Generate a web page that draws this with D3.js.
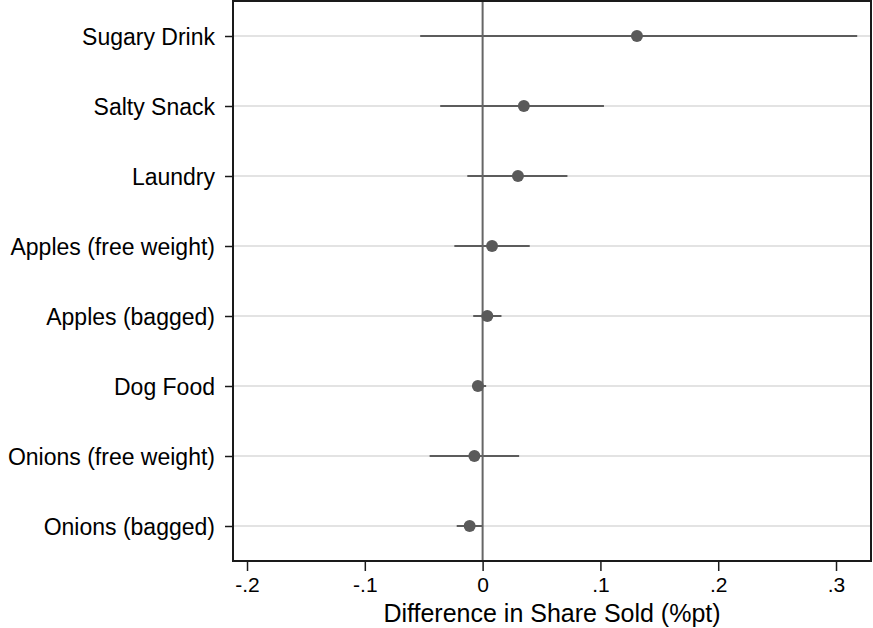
<!DOCTYPE html>
<html>
<head>
<meta charset="utf-8">
<script src="https://cdn.jsdelivr.net/npm/d3@7"></script>
<style>
  body { margin: 0; background: #fff; }
  svg { font-family: Arial, "Liberation Sans", sans-serif; }
</style>
</head>
<body>
<script>
// categories top to bottom
const categories = [
	'Sugary Drink',
	'Salty Snack',
	'Laundry',
	'Apples (free weight)',
	'Apples (bagged)',
	'Dog Food',
	'Onions (free weight)',
	'Onions (bagged)'
];
const estimates = [0.131, 0.035, 0.030, 0.008, 0.004, -0.004, -0.007, -0.011];
const ciLow = [-0.053, -0.036, -0.013, -0.024, -0.008, -0.008, -0.045, -0.022];
const ciHigh = [0.318, 0.103, 0.072, 0.040, 0.016, 0.003, 0.031, 0.000];
const xTicks = [-0.2, -0.1, 0, 0.1, 0.2, 0.3];
const xTickLabels = ['-.2', '-.1', '0', '.1', '.2', '.3'];

const width = 873, height = 628;
const margin = { left: 233, right: 2, top: 1, bottom: 67 };

const svg = d3
	.select('body')
	.append('svg')
	.attr('width', width)
	.attr('height', height);

const x = d3
	.scaleLinear()
	.domain([-0.2119, 0.3297])
	.range([margin.left, width - margin.right]);

const y = d3
	.scalePoint()
	.domain(categories)
	.range([margin.top, height - margin.bottom])
	.padding(0.5);

let data = categories.map((c, i) => ({
	name: c,
	est: estimates[i],
	lo: ciLow[i],
	hi: ciHigh[i]
}));

// horizontal grid lines
svg
	.selectAll('line.grid')
	.data(categories)
	.enter()
	.append('line')
	.attr('class', 'grid')
	.attr('x1', margin.left)
	.attr('x2', width - margin.right)
	.attr('y1', d => y(d))
	.attr('y2', d => y(d))
	.attr('stroke', '#e3e3e3')
	.attr('stroke-width', 2);

// confidence intervals
svg
	.selectAll('line.ci')
	.data(data)
	.enter()
	.append('line')
	.attr('class', 'ci')
	.attr('x1', d => x(d.lo))
	.attr('x2', d => x(d.hi))
	.attr('y1', d => y(d.name))
	.attr('y2', d => y(d.name))
	.attr('stroke', '#5c5c5c')
	.attr('stroke-width', 2);

// zero line
svg
	.append('line')
	.attr('x1', x(0))
	.attr('x2', x(0))
	.attr('y1', margin.top)
	.attr('y2', height - margin.bottom)
	.attr('stroke', '#666')
	.attr('stroke-width', 2);

// points
svg
	.selectAll('circle')
	.data(data)
	.enter()
	.append('circle')
	.attr('cx', d => x(d.est))
	.attr('cy', d => y(d.name))
	.attr('r', 6)
	.attr('fill', '#5a5a5a');

// frame
svg
	.append('rect')
	.attr('x', margin.left)
	.attr('y', margin.top)
	.attr('width', width - margin.right - margin.left)
	.attr('height', height - margin.bottom - margin.top)
	.attr('fill', 'none')
	.attr('stroke', '#1a1a1a')
	.attr('stroke-width', 2);

// x axis
const xAxis = svg
	.append('g')
	.attr('transform', `translate(0,${height - margin.bottom})`)
	.call(
		d3
			.axisBottom(x)
			.tickValues(xTicks)
			.tickSize(10)
			.tickFormat((d, i) => xTickLabels[i])
	);
xAxis.select('.domain').remove();
xAxis.selectAll('line').attr('stroke', '#1a1a1a').attr('stroke-width', 1.5);
xAxis
	.selectAll('text')
	.attr('fill', '#000')
	.style('font-size', '21px')
	.attr('y', 31)
	.attr('dy', '0');

// y axis
const yAxis = svg
	.append('g')
	.attr('transform', `translate(${margin.left},0)`)
	.call(d3.axisLeft(y).tickSize(8).tickPadding(10));
yAxis.select('.domain').remove();
yAxis.selectAll('line').attr('stroke', '#1a1a1a').attr('stroke-width', 1.5);
yAxis
	.selectAll('text')
	.attr('fill', '#000')
	.style('font-size', '23px')
	.attr('dy', '0.38em');

// axis title
svg
	.append('text')
	.attr('x', (margin.left + width - margin.right) / 2)
	.attr('y', 622)
	.attr('text-anchor', 'middle')
	.style('font-size', '25px')
	.text('Difference in Share Sold (%pt)');
</script>
</body>
</html>
